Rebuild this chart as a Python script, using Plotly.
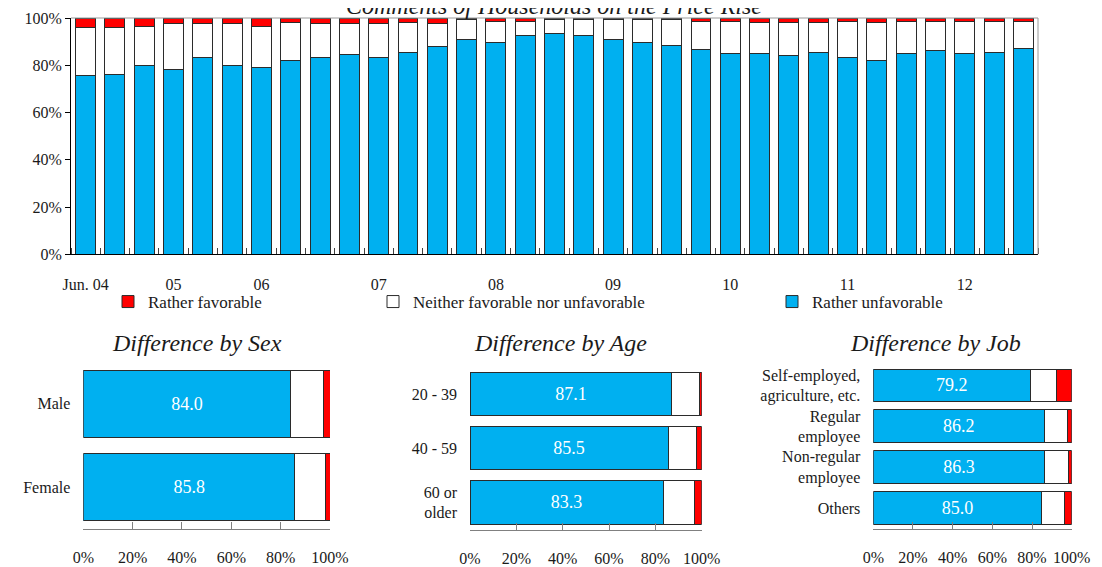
import plotly.graph_objects as go

# Survey periods (quarterly), Jun. 2004 - Sep. 2012
periods = ["Jun. 04", "Sep. 04", "Dec. 04",
           "Mar. 05", "Jun. 05", "Nov. 05",
           "Mar. 06", "Jun. 06", "Sep. 06", "Dec. 06",
           "Mar. 07", "Jun. 07", "Sep. 07", "Dec. 07",
           "Mar. 08", "Jun. 08", "Sep. 08", "Dec. 08",
           "Mar. 09", "Jun. 09", "Sep. 09", "Dec. 09",
           "Mar. 10", "Jun. 10", "Sep. 10", "Dec. 10",
           "Mar. 11", "Jun. 11", "Sep. 11", "Dec. 11",
           "Mar. 12", "Jun. 12", "Sep. 12"]

# shares in %
unfavorable = [75.7, 76.3, 79.7, 78.4, 83.4, 79.7, 79.0, 82.2, 83.4, 84.6,
               83.4, 85.3, 87.9, 91.0, 89.7, 92.8, 93.4, 92.8, 91.0, 89.7,
               88.4, 86.6, 85.0, 85.0, 84.3, 85.3, 83.4, 82.1, 85.0, 86.2,
               85.0, 85.5, 87.2]
neutral = [20.1, 19.5, 16.9, 19.1, 14.1, 17.8, 17.6, 15.8, 14.1, 12.9,
           14.1, 13.0, 9.6, 8.2, 8.9, 5.8, 5.8, 6.4, 8.2, 9.5,
           10.8, 12.0, 13.6, 13.3, 14.0, 13.0, 15.2, 16.2, 13.6, 12.4,
           13.6, 13.1, 11.4]
favorable = [4.2, 4.2, 3.4, 2.5, 2.5, 2.5, 3.4, 2.0, 2.5, 2.5,
             2.5, 1.7, 2.5, 0.8, 1.4, 1.4, 0.8, 0.8, 0.8, 0.8,
             0.8, 1.4, 1.4, 1.7, 1.7, 1.7, 1.4, 1.7, 1.4, 1.4,
             1.4, 1.4, 1.4]

sex_groups = ["Male", "Female"]
sex_unfav = [84.0, 85.8]
sex_neutral = [13.3, 12.2]
sex_fav = [2.7, 2.0]

age_groups = ["20 - 39", "40 - 59", "60 or<br>older"]
age_unfav = [87.1, 85.5, 83.3]
age_neutral = [11.9, 12.3, 13.8]
age_fav = [1.0, 2.2, 2.9]

job_groups = ["Self-employed,<br>agriculture, etc.", "Regular<br>employee",
              "Non-regular<br>employee", "Others"]
job_unfav = [79.2, 86.2, 86.3, 85.0]
job_neutral = [13.2, 11.6, 12.0, 11.6]
job_fav = [7.6, 2.2, 1.7, 3.4]

BLUE = "#00B0F0"
RED = "#FF0000"
EDGE = "#2b2b2b"
SERIF = "Liberation Serif"

# page body has an 8px margin, so the figure is a bit smaller than the window
OFF = 8
W, H = 1102 - OFF, 567 - OFF


def xd(a, b):
    return [(a - OFF) / W, (b - OFF) / W]


def yd(top, bottom):
    return [1 - (bottom - OFF) / H, 1 - (top - OFF) / H]


def px(x):
    return (x - OFF) / W


def py(y):
    return 1 - (y - OFF) / H


# tick labels: first survey, then first survey of each year
tick_idx = [0] + [i for i, p in enumerate(periods) if p.startswith("Mar.")]
tick_txt = [periods[0]] + [periods[i][-2:] for i in tick_idx[1:]]
xpos = list(range(len(periods)))

fig = go.Figure()

# top chart, stacked columns
fig.add_trace(go.Bar(x=xpos, y=unfavorable, name="Rather unfavorable",
                     marker=dict(color=BLUE, line=dict(color=EDGE, width=1)),
                     width=0.68, legend="legend3"))
fig.add_trace(go.Bar(x=xpos, y=neutral, name="Neither favorable nor unfavorable",
                     marker=dict(color="white", line=dict(color=EDGE, width=1)),
                     width=0.68, legend="legend2"))
fig.add_trace(go.Bar(x=xpos, y=favorable, name="Rather favorable",
                     marker=dict(color=RED, line=dict(color=EDGE, width=1)),
                     width=0.68, legend="legend"))

# bottom panels, stacked horizontal bars
panels = [
    (sex_groups, sex_unfav, sex_neutral, sex_fav, "x2", "y2"),
    (age_groups, age_unfav, age_neutral, age_fav, "x3", "y3"),
    (job_groups, job_unfav, job_neutral, job_fav, "x4", "y4"),
]
for groups, unf, neu, fav, xa, ya in panels:
    fig.add_trace(go.Bar(y=groups, x=unf, orientation="h", xaxis=xa, yaxis=ya,
                         marker=dict(color=BLUE, line=dict(color=EDGE, width=1)),
                         texttemplate="%{x:.1f}", textposition="inside",
                         insidetextanchor="middle", textangle=0,
                         textfont=dict(color="white", size=18, family=SERIF),
                         showlegend=False))
    fig.add_trace(go.Bar(y=groups, x=neu, orientation="h", xaxis=xa, yaxis=ya,
                         marker=dict(color="white", line=dict(color=EDGE, width=1)),
                         showlegend=False))
    fig.add_trace(go.Bar(y=groups, x=fav, orientation="h", xaxis=xa, yaxis=ya,
                         marker=dict(color=RED, line=dict(color=EDGE, width=1)),
                         showlegend=False))

tickfont = dict(family=SERIF, size=16, color="#1a1a1a")

bottom_x = dict(range=[0, 100], tick0=0, dtick=20, ticksuffix="%",
                showgrid=False, zeroline=False, showline=True, linecolor="#808080",
                ticks="inside", ticklen=7, tickcolor="#808080",
                ticklabelstandoff=14, tickfont=tickfont, automargin=False)
bottom_y = dict(autorange="reversed", showgrid=False, zeroline=False,
                showline=False, ticks="", ticklabelstandoff=12,
                tickfont=tickfont, automargin=False)

legend_style = dict(xanchor="left", yanchor="middle", orientation="h",
                    font=dict(size=17), bgcolor="rgba(0,0,0,0)", itemwidth=30)

fig.update_layout(
    width=W, height=H,
    margin=dict(l=0, r=0, t=0, b=0, autoexpand=False),
    paper_bgcolor="white", plot_bgcolor="white",
    barmode="stack",
    font=dict(family=SERIF, size=16, color="#1a1a1a"),
    xaxis=dict(domain=xd(71, 1038), range=[-0.5, len(periods) - 0.5],
               tickvals=tick_idx, ticktext=tick_txt, ticks="",
               showgrid=False, zeroline=False, showline=True, linecolor="black",
               minor=dict(ticks="inside", tick0=0.5, dtick=1, ticklen=6,
                          tickcolor="#404040", showgrid=False),
               ticklabelstandoff=15, tickfont=tickfont, automargin=False),
    yaxis=dict(domain=yd(18, 254.3), range=[0, 100], dtick=20, ticksuffix="%",
               showgrid=False, zeroline=False, showline=True, linecolor="black",
               ticks="outside", ticklen=5, tickcolor="black", tickfont=tickfont,
               automargin=False),
    xaxis2=dict(domain=xd(83.3, 330), anchor="y2", **bottom_x),
    yaxis2=dict(domain=yd(362, 529), anchor="x2", **bottom_y),
    xaxis3=dict(domain=xd(470, 701.7), anchor="y3", **bottom_x),
    yaxis3=dict(domain=yd(367, 529.5), anchor="x3", **bottom_y),
    xaxis4=dict(domain=xd(873.3, 1071.7), anchor="y4", **bottom_x),
    yaxis4=dict(domain=yd(365, 528.5), anchor="x4", **bottom_y),
    legend=dict(x=px(108), y=py(302), **legend_style),
    legend2=dict(x=px(373), y=py(302), **legend_style),
    legend3=dict(x=px(772), y=py(302), **legend_style),
)

# grey frame on top and right of the main chart
fig.add_shape(type="line", xref="x domain", yref="y domain", x0=0, x1=1, y0=1, y1=1,
              line=dict(color="#9a9a9a", width=1))
fig.add_shape(type="line", xref="x domain", yref="y domain", x0=1, x1=1, y0=0, y1=1,
              line=dict(color="#9a9a9a", width=1))

# titles (the main title is cut off at the top edge, as in the source image)
fig.add_annotation(text="<i>Comments of Households on the Price Rise</i>",
                   xref="paper", yref="paper", x=px(554), y=py(6),
                   xanchor="center", yanchor="middle", showarrow=False,
                   font=dict(family=SERIF, size=24, color="#1a1a1a"))
for label, cx in [("Difference by Sex", 197), ("Difference by Age", 560),
                  ("Difference by Job", 935)]:
    fig.add_annotation(text=f"<i>{label}</i>", xref="paper", yref="paper",
                       x=px(cx), y=py(343), xanchor="center", yanchor="middle",
                       showarrow=False, font=dict(family=SERIF, size=24, color="#1a1a1a"))

fig.write_html("out.html")
